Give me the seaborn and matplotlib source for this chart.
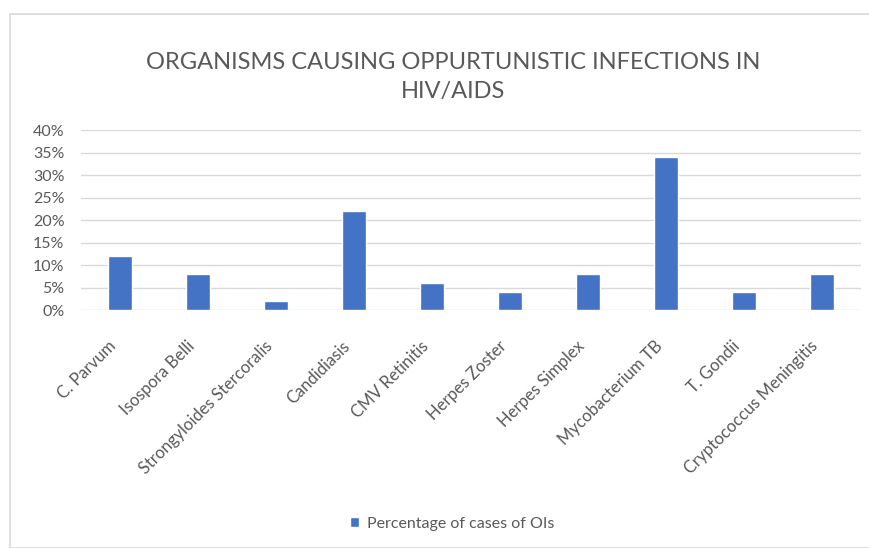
import matplotlib
matplotlib.use("Agg")
import matplotlib.pyplot as plt
import matplotlib.transforms as mtransforms
import seaborn as sns
import pandas as pd
from matplotlib.patches import Rectangle, Patch
from matplotlib.ticker import PercentFormatter

organisms = [
    "C. Parvum", "Isospora Belli", "Strongyloides Stercoralis", "Candidiasis",
    "CMV Retinitis", "Herpes Zoster", "Herpes Simplex", "Mycobacterium TB",
    "T. Gondii", "Cryptococcus Meningitis",
]
percent_cases = [12, 8, 2, 22, 6, 4, 8, 34, 4, 8]
y_ticks = [0, 5, 10, 15, 20, 25, 30, 35, 40]
series_name = "Percentage of cases of OIs"

df = pd.DataFrame({"Organism": organisms, "Percent": percent_cases})

sns.set_theme(style="white")
plt.rcParams["font.family"] = ["Lato", "DejaVu Sans"]

BAR = "#4472C4"
TXT = "#595959"

fig = plt.figure(figsize=(8.69, 5.48), dpi=100)
fig.patch.set_facecolor("white")
fig.patches.append(Rectangle((10 / 869, 0), 1.0, 1 - 14 / 548, transform=fig.transFigure,
                             fill=False, edgecolor="#D9D9D9", linewidth=1.2))

ax = fig.add_axes([81 / 869, 1 - 310 / 548, 780 / 869, 180 / 548])
sns.barplot(data=df, x="Organism", y="Percent", color=BAR, saturation=1,
            width=0.31, ax=ax)

ax.set_ylim(0, 40)
ax.set_yticks(y_ticks)
ax.yaxis.set_major_formatter(PercentFormatter(decimals=0))
ax.grid(axis="y", color="#D9D9D9", linewidth=1)
ax.set_axisbelow(True)
for s in ax.spines.values():
    s.set_visible(False)
ax.set_xlabel("")
ax.set_ylabel("")
ax.tick_params(axis="y", length=0, labelsize=11.5, labelcolor=TXT, pad=12)
ax.tick_params(axis="x", length=0, labelsize=12, labelcolor=TXT, pad=20)

# nudge the slanted category labels left so their ends sit under the bars
shift = mtransforms.ScaledTranslation(-12 / 100, 0, fig.dpi_scale_trans)
for lbl in ax.get_xticklabels():
    lbl.set_rotation(45)
    lbl.set_ha("right")
    lbl.set_va("top")
    lbl.set_rotation_mode("anchor")
    lbl.set_transform(lbl.get_transform() + shift)

fig.text(453 / 869, 1 - 77 / 548,
         "ORGANISMS CAUSING OPPURTUNISTIC INFECTIONS IN\nHIV/AIDS",
         ha="center", va="center", fontsize=17, color=TXT, linespacing=1.45)

fig.legend(handles=[Patch(facecolor=BAR, label=series_name)],
           loc="center", bbox_to_anchor=(452 / 869, 1 - 524 / 548),
           frameon=False, fontsize=11.5, labelcolor=TXT,
           handlelength=0.6, handleheight=0.6, handletextpad=0.5)

fig.savefig("out.png", dpi=100)
